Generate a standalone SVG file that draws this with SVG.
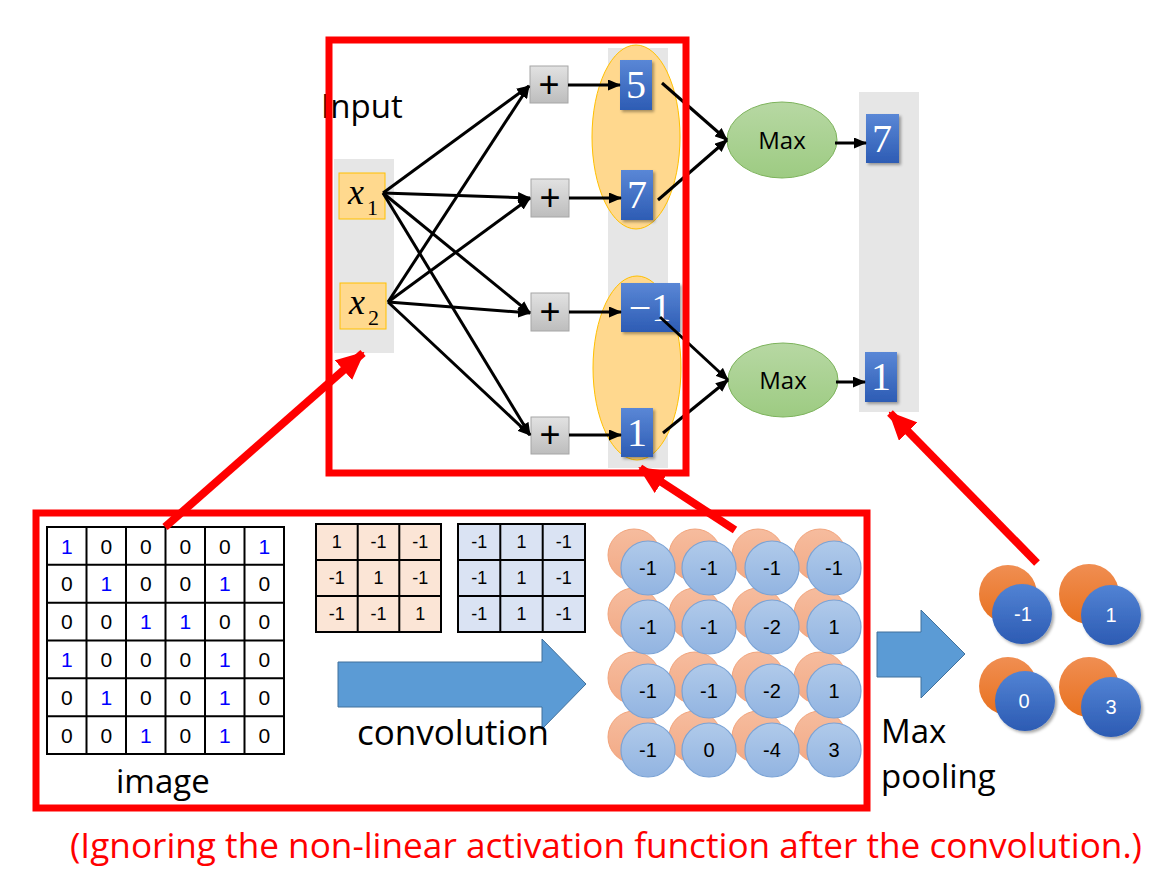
<svg xmlns="http://www.w3.org/2000/svg" width="1174" height="886" viewBox="0 0 1174 886">
<defs>
<linearGradient id="gBlue" x1="0" y1="0" x2="0" y2="1"><stop offset="0" stop-color="#5A87D6"/><stop offset="1" stop-color="#2D5CB4"/></linearGradient>
<linearGradient id="gPlus" x1="0" y1="0" x2="0" y2="1"><stop offset="0" stop-color="#E2E2E2"/><stop offset="1" stop-color="#BDBDBD"/></linearGradient>
<linearGradient id="gMax" x1="0" y1="0" x2="0" y2="1"><stop offset="0" stop-color="#B7D8A3"/><stop offset="1" stop-color="#9DCB82"/></linearGradient>
<linearGradient id="gOr" x1="0" y1="0" x2="0" y2="1"><stop offset="0" stop-color="#F6BC9E"/><stop offset="1" stop-color="#F2AA86"/></linearGradient>
<linearGradient id="gLb" x1="0" y1="0" x2="0" y2="1"><stop offset="0" stop-color="#B0CAEA"/><stop offset="1" stop-color="#92B4E1"/></linearGradient>
<linearGradient id="gDo" x1="0" y1="0" x2="0" y2="1"><stop offset="0" stop-color="#F08E52"/><stop offset="1" stop-color="#E8711F"/></linearGradient>
<linearGradient id="gDb" x1="0" y1="0" x2="0" y2="1"><stop offset="0" stop-color="#5283D4"/><stop offset="1" stop-color="#2C5BB3"/></linearGradient>
<filter id="sh" x="-20%" y="-20%" width="150%" height="150%"><feDropShadow dx="2" dy="2" stdDeviation="1.5" flood-color="#000" flood-opacity="0.35"/></filter>
<marker id="ah" markerUnits="userSpaceOnUse" markerWidth="13" markerHeight="11" refX="12" refY="5.5" orient="auto"><path d="M0,0 L13,5.5 L0,11 z" fill="#000"/></marker>
<marker id="rh" markerUnits="userSpaceOnUse" markerWidth="28" markerHeight="26" refX="26" refY="13" orient="auto"><path d="M0,0 L28,13 L0,26 z" fill="#FF0000"/></marker>
<style>
.col{fill:#E6E6E6}
.xin{fill:#FFD98E;stroke:#FFC000;stroke-width:1}
.oe{fill:#FFD88E;stroke:#FFC000;stroke-width:1}
.plus{fill:url(#gPlus);stroke:#A6A6A6;stroke-width:1}
.pt{font-family:"Liberation Sans",Arial,sans-serif;font-size:36px;fill:#000;text-anchor:middle}
.bb{fill:url(#gBlue);filter:url(#sh)}
.bt{font-family:"Liberation Serif","Times New Roman",serif;font-size:40px;fill:#fff;text-anchor:middle}
.mx{fill:url(#gMax);stroke:#7DB35C;stroke-width:1}
.mt{font-family:"Open Sans","Liberation Sans",sans-serif;font-size:24px;fill:#000;text-anchor:middle}
.lbl{font-family:"Open Sans","Liberation Sans",sans-serif;font-size:33px;fill:#000}
.wire{stroke:#000;stroke-width:3;fill:none;marker-end:url(#ah)}
.rbox{fill:none;stroke:#FF0000;stroke-width:7}
.rarr{stroke:#FF0000;stroke-width:8;fill:none;marker-end:url(#rh)}
.gc{fill:#fff;stroke:#000;stroke-width:2}
.gt{font-family:"Liberation Sans",Arial,sans-serif;font-size:21px;fill:#000;text-anchor:middle}
.gb{fill:#0000FF}
.f1{fill:#FBE5D6;stroke:#000;stroke-width:2}
.f2{fill:#DAE3F3;stroke:#000;stroke-width:2}
.ft{font-family:"Liberation Sans",Arial,sans-serif;font-size:18px;fill:#000;text-anchor:middle}
.co{fill:url(#gOr);stroke:#F2A47C;stroke-width:1}
.cb{fill:url(#gLb);stroke:#7BA3D5;stroke-width:1.2}
.ct{font-family:"Liberation Sans",Arial,sans-serif;font-size:20px;fill:#000;text-anchor:middle}
.po{fill:url(#gDo)}
.pb{fill:url(#gDb);filter:url(#sh)}
.pw{font-family:"Liberation Sans",Arial,sans-serif;font-size:20px;fill:#fff;text-anchor:middle}
.bigarr{fill:#5B9BD5;stroke:#41719C;stroke-width:1}
.xi{font-family:"Liberation Serif","Times New Roman",serif;font-style:italic;font-size:36px;fill:#000}
.xs{font-family:"Liberation Serif","Times New Roman",serif;font-size:22px;fill:#000}
</style>
</defs>

<!-- background columns -->
<rect class="col" x="334" y="159" width="60" height="194"/>
<rect class="col" x="608" y="48" width="60" height="420"/>
<rect class="col" x="859" y="92" width="60" height="320"/>
<ellipse class="oe" cx="636" cy="137" rx="44" ry="92"/>
<ellipse class="oe" cx="637" cy="368" rx="44" ry="92"/>

<text class="lbl" x="321" y="118">Input</text>

<g id="x1"><rect class="xin" x="339" y="173" width="46" height="46"/><text class="xi" x="348" y="204">x</text><text class="xs" x="367" y="215">1</text></g>
<g id="x2"><rect class="xin" x="340" y="283" width="46" height="46"/><text class="xi" x="349" y="314">x</text><text class="xs" x="368" y="325">2</text></g>

<g id="plus1"><rect class="plus" x="530" y="66" width="38" height="37"/><text class="pt" x="549" y="97">+</text></g>
<g id="plus2"><rect class="plus" x="531" y="179" width="38" height="38"/><text class="pt" x="550" y="210">+</text></g>
<g id="plus3"><rect class="plus" x="531" y="293" width="38" height="38"/><text class="pt" x="550" y="324">+</text></g>
<g id="plus4"><rect class="plus" x="531" y="417" width="38" height="37"/><text class="pt" x="550" y="447">+</text></g>

<g id="n5"><rect class="bb" x="620" y="60" width="32" height="50"/><text class="bt" x="636" y="98">5</text></g>
<g id="n7"><rect class="bb" x="621" y="170" width="32" height="50"/><text class="bt" x="637" y="208">7</text></g>
<g id="nm1"><rect class="bb" x="621" y="283" width="59" height="49"/><text class="bt" x="650" y="321">−1</text></g>
<g id="n1"><rect class="bb" x="621" y="408" width="32" height="49"/><text class="bt" x="637" y="446">1</text></g>

<g id="max1"><ellipse class="mx" cx="782" cy="140" rx="55" ry="38"/><text class="mt" x="782" y="149">Max</text></g>
<g id="max2"><ellipse class="mx" cx="783" cy="380" rx="55" ry="37"/><text class="mt" x="783" y="389">Max</text></g>

<g id="out7"><rect class="bb" x="866" y="114" width="33" height="49"/><text class="bt" x="882" y="152">7</text></g>
<g id="out1"><rect class="bb" x="865" y="352" width="32" height="50"/><text class="bt" x="881" y="390">1</text></g>

<g id="connectors">
<line class="wire" x1="383" y1="193" x2="529" y2="86"/>
<line class="wire" x1="383" y1="193" x2="530" y2="198"/>
<line class="wire" x1="383" y1="193" x2="530" y2="313"/>
<line class="wire" x1="383" y1="193" x2="530" y2="435"/>
<line class="wire" x1="388" y1="302" x2="529" y2="86"/>
<line class="wire" x1="388" y1="302" x2="530" y2="198"/>
<line class="wire" x1="388" y1="302" x2="530" y2="313"/>
<line class="wire" x1="388" y1="302" x2="530" y2="435"/>
<line class="wire" x1="568" y1="85" x2="620" y2="85"/>
<line class="wire" x1="569" y1="198" x2="621" y2="198"/>
<line class="wire" x1="569" y1="312" x2="621" y2="312"/>
<line class="wire" x1="569" y1="435" x2="621" y2="435"/>
<line class="wire" x1="662" y1="83" x2="727" y2="140"/>
<line class="wire" x1="658" y1="200" x2="727" y2="140"/>
<line class="wire" x1="660" y1="317" x2="728" y2="380"/>
<line class="wire" x1="663" y1="433" x2="728" y2="380"/>
<line class="wire" x1="835" y1="143" x2="866" y2="143"/>
<line class="wire" x1="836" y1="382" x2="865" y2="382"/>
</g>

<!-- image grid -->
<g id="image">
<rect class="gc" x="47" y="527" width="237" height="227"/>
<path d="M86.5,527V754M126,527V754M165.5,527V754M205,527V754M244.5,527V754M47,564.8H284M47,602.7H284M47,640.5H284M47,678.3H284M47,716.2H284" stroke="#000" stroke-width="2" fill="none"/>
<g class="gt">
<text x="66.75" y="553.5" class="gb">1</text><text x="106.25" y="553.5">0</text><text x="145.75" y="553.5">0</text><text x="185.25" y="553.5">0</text><text x="224.75" y="553.5">0</text><text x="264.25" y="553.5" class="gb">1</text>
<text x="66.75" y="591.3">0</text><text x="106.25" y="591.3" class="gb">1</text><text x="145.75" y="591.3">0</text><text x="185.25" y="591.3">0</text><text x="224.75" y="591.3" class="gb">1</text><text x="264.25" y="591.3">0</text>
<text x="66.75" y="629.2">0</text><text x="106.25" y="629.2">0</text><text x="145.75" y="629.2" class="gb">1</text><text x="185.25" y="629.2" class="gb">1</text><text x="224.75" y="629.2">0</text><text x="264.25" y="629.2">0</text>
<text x="66.75" y="667" class="gb">1</text><text x="106.25" y="667">0</text><text x="145.75" y="667">0</text><text x="185.25" y="667">0</text><text x="224.75" y="667" class="gb">1</text><text x="264.25" y="667">0</text>
<text x="66.75" y="704.8">0</text><text x="106.25" y="704.8" class="gb">1</text><text x="145.75" y="704.8">0</text><text x="185.25" y="704.8">0</text><text x="224.75" y="704.8" class="gb">1</text><text x="264.25" y="704.8">0</text>
<text x="66.75" y="742.7">0</text><text x="106.25" y="742.7">0</text><text x="145.75" y="742.7" class="gb">1</text><text x="185.25" y="742.7">0</text><text x="224.75" y="742.7" class="gb">1</text><text x="264.25" y="742.7">0</text>
</g>
</g>
<text class="lbl" x="116" y="793">image</text>

<!-- filters -->
<g id="filter1">
<rect class="f1" x="316" y="524" width="125" height="108"/>
<path d="M357.7,524V632M399.3,524V632M316,560H441M316,596H441" stroke="#000" stroke-width="2" fill="none"/>
<g class="ft">
<text x="336.8" y="548">1</text><text x="378.5" y="548">-1</text><text x="420.2" y="548">-1</text>
<text x="336.8" y="584">-1</text><text x="378.5" y="584">1</text><text x="420.2" y="584">-1</text>
<text x="336.8" y="620">-1</text><text x="378.5" y="620">-1</text><text x="420.2" y="620">1</text>
</g>
</g>
<g id="filter2">
<rect class="f2" x="458" y="524" width="127" height="108"/>
<path d="M500.3,524V632M542.7,524V632M458,560H585M458,596H585" stroke="#000" stroke-width="2" fill="none"/>
<g class="ft">
<text x="479.2" y="548">-1</text><text x="521.5" y="548">1</text><text x="563.8" y="548">-1</text>
<text x="479.2" y="584">-1</text><text x="521.5" y="584">1</text><text x="563.8" y="584">-1</text>
<text x="479.2" y="620">-1</text><text x="521.5" y="620">1</text><text x="563.8" y="620">-1</text>
</g>
</g>

<g id="convArrow"><polygon class="bigarr" points="338,662 542,662 542,639 586,684 542,729 542,707 338,707"/></g>
<text class="lbl" x="357" y="745" style="font-size:35px">convolution</text>

<!-- feature maps -->
<g id="featureMaps">
<g>
<circle class="co" cx="634" cy="555" r="26"/><circle class="co" cx="695" cy="555" r="26"/><circle class="co" cx="758" cy="555" r="26"/><circle class="co" cx="820" cy="555" r="26"/>
<circle class="co" cx="634" cy="614" r="26"/><circle class="co" cx="695" cy="614" r="26"/><circle class="co" cx="758" cy="614" r="26"/><circle class="co" cx="820" cy="614" r="26"/>
<circle class="co" cx="634" cy="678" r="26"/><circle class="co" cx="695" cy="678" r="26"/><circle class="co" cx="758" cy="678" r="26"/><circle class="co" cx="820" cy="678" r="26"/>
<circle class="co" cx="634" cy="737" r="26"/><circle class="co" cx="695" cy="737" r="26"/><circle class="co" cx="758" cy="737" r="26"/><circle class="co" cx="820" cy="737" r="26"/>
</g>
<g>
<circle class="cb" cx="648" cy="568" r="27"/><circle class="cb" cx="709" cy="568" r="27"/><circle class="cb" cx="772" cy="568" r="27"/><circle class="cb" cx="834" cy="568" r="27"/>
<circle class="cb" cx="648" cy="627" r="27"/><circle class="cb" cx="709" cy="627" r="27"/><circle class="cb" cx="772" cy="627" r="27"/><circle class="cb" cx="834" cy="627" r="27"/>
<circle class="cb" cx="648" cy="691" r="27"/><circle class="cb" cx="709" cy="691" r="27"/><circle class="cb" cx="772" cy="691" r="27"/><circle class="cb" cx="834" cy="691" r="27"/>
<circle class="cb" cx="648" cy="750" r="27"/><circle class="cb" cx="709" cy="750" r="27"/><circle class="cb" cx="772" cy="750" r="27"/><circle class="cb" cx="834" cy="750" r="27"/>
</g>
<g class="ct">
<text x="648" y="575">-1</text><text x="709" y="575">-1</text><text x="772" y="575">-1</text><text x="834" y="575">-1</text>
<text x="648" y="634">-1</text><text x="709" y="634">-1</text><text x="772" y="634">-2</text><text x="834" y="634">1</text>
<text x="648" y="698">-1</text><text x="709" y="698">-1</text><text x="772" y="698">-2</text><text x="834" y="698">1</text>
<text x="648" y="757">-1</text><text x="709" y="757">0</text><text x="772" y="757">-4</text><text x="834" y="757">3</text>
</g>
</g>

<g id="poolArrow"><polygon class="bigarr" points="877,632 921,632 921,610 965,654 921,698 921,677 877,677"/></g>
<text class="lbl" x="881" y="743">Max</text>
<text class="lbl" x="881" y="788">pooling</text>

<g id="pooled">
<circle class="po" cx="1008" cy="594" r="29"/><circle class="po" cx="1089" cy="594" r="30"/>
<circle class="po" cx="1008" cy="686" r="29"/><circle class="po" cx="1089" cy="687" r="30"/>
<circle class="pb" cx="1022" cy="614" r="30"/><circle class="pb" cx="1111" cy="615" r="30"/>
<circle class="pb" cx="1025" cy="701" r="30"/><circle class="pb" cx="1111" cy="707" r="30"/>
<g class="pw">
<text x="1023" y="621">-1</text><text x="1111" y="622">1</text>
<text x="1024" y="708">0</text><text x="1111" y="714">3</text>
</g>
</g>

<!-- red frames and arrows -->
<rect class="rbox" x="329" y="40" width="357" height="433"/>
<rect class="rbox" x="36" y="513" width="831" height="295"/>
<line class="rarr" x1="165" y1="527" x2="363" y2="353"/>
<line class="rarr" x1="735" y1="530" x2="640" y2="468"/>
<line class="rarr" x1="1037" y1="563" x2="890" y2="413"/>

<text x="70" y="858" font-family="Open Sans, Liberation Sans, sans-serif" font-size="35px" fill="#FF0000" textLength="1072" lengthAdjust="spacingAndGlyphs">(Ignoring the non-linear activation function after the convolution.)</text>
</svg>
